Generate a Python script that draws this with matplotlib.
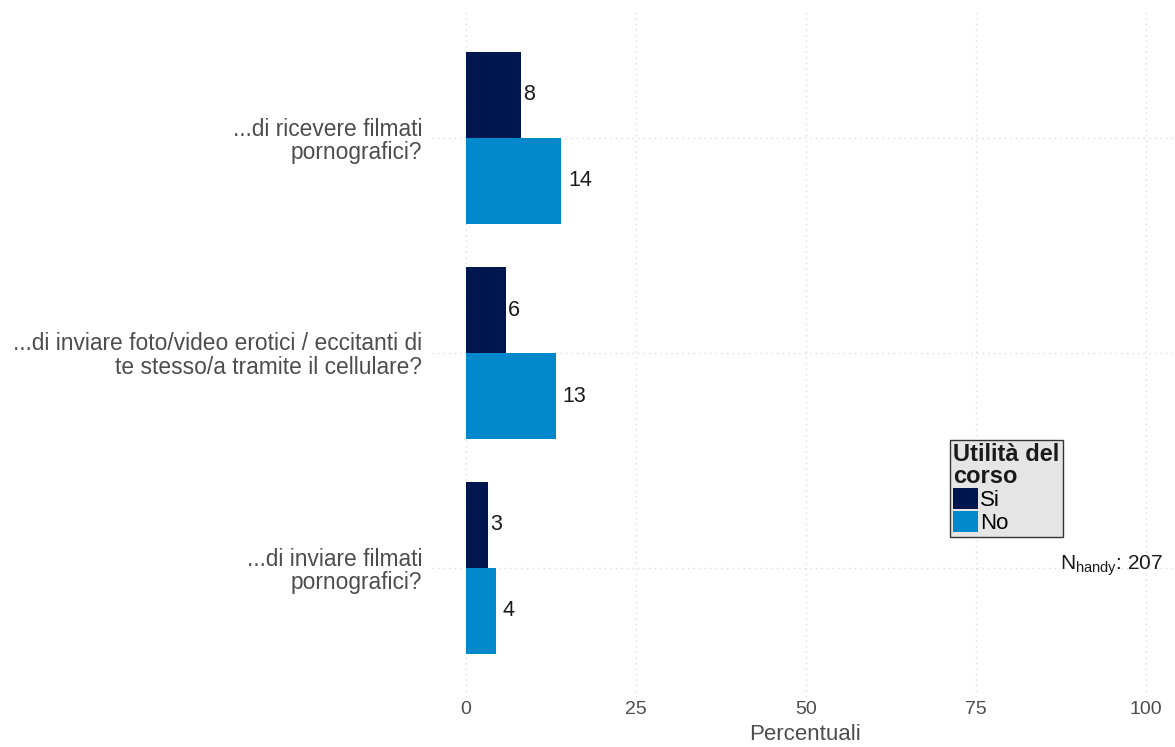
import matplotlib
matplotlib.use("Agg")
import matplotlib.pyplot as plt
import numpy as np
from matplotlib.patches import Patch

plt.rcParams['font.family'] = ['Liberation Sans', 'DejaVu Sans']
plt.rcParams['mathtext.fontset'] = 'custom'
plt.rcParams['mathtext.rm'] = 'Liberation Sans'
plt.rcParams['mathtext.it'] = 'Liberation Sans'

categories = ["...di ricevere filmati\npornografici?",
              "...di inviare foto/video erotici / eccitanti di\nte stesso/a tramite il cellulare?",
              "...di inviare filmati\npornografici?"]
si_values = [8.1, 5.9, 3.2]
no_values = [14.0, 13.2, 4.4]
series_names = ["Si", "No"]
colors = ["#00164F", "#0088CC"]
n_handy = 207
xticks = [0, 25, 50, 75, 100]

fig = plt.figure(figsize=(11.75, 7.47), dpi=100)
ax = fig.add_axes([432 / 1175, 1 - 697 / 747, 1 - 432 / 1175, (697 - 9) / 747])

y = np.arange(1, len(categories) + 1)
h = 0.4
ax.barh(y - h / 2, si_values, height=h, color=colors[0], zorder=2)
ax.barh(y + h / 2, no_values, height=h, color=colors[1], zorder=2)

for yi, v in zip(y - h / 2, si_values):
    ax.text(v + 0.3, yi, f"{v:.0f}", va="center", ha="left", fontsize=15.5, color="#1A1A1A")
for yi, v in zip(y + h / 2, no_values):
    ax.text(v + 1.0, yi, f"{v:.0f}", va="center", ha="left", fontsize=15.5, color="#1A1A1A")

ax.set_xlim(-5, 104.3)
ax.set_ylim(3.6, 0.4)
ax.set_xticks(xticks)
ax.set_xticklabels([str(t) for t in xticks], fontsize=14, color="#4D4D4D")
ax.set_yticks(y)
ax.set_yticklabels(categories, fontsize=16.4, color="#4D4D4D", ha="right",
                   linespacing=1.0)
ax.tick_params(length=0)
ax.tick_params(axis="x", pad=3)
ax.tick_params(axis="y", pad=7)
ax.set_xlabel("Percentuali", fontsize=16, color="#4D4D4D")
ax.xaxis.set_label_coords(0.502, (697 - 734) / 688)
ax.xaxis.label.set_va("center")

ax.grid(True, color="#DDDDDD", linestyle=(0, (1, 3)), linewidth=1, zorder=0)
for s in ax.spines.values():
    s.set_visible(False)

handles = [Patch(facecolor=c, label=n) for c, n in zip(colors, series_names)]
leg = ax.legend(handles=handles, title="Utilità del\ncorso", loc="upper left",
                bbox_to_anchor=((950 - 432) / 743, 1 - (440 - 9) / 688),
                fontsize=16, title_fontproperties={"weight": "bold", "size": 17},
                frameon=True, fancybox=False, handlelength=1.1, handleheight=1.1,
                handletextpad=0.1, labelspacing=0.0, borderpad=0.15, borderaxespad=0)
leg.get_frame().set_facecolor("#E5E5E5")
leg.get_frame().set_edgecolor("#333333")
leg.get_frame().set_linewidth(1)
leg.get_frame().set_alpha(1)
leg._legend_box.align = "left"
leg.get_title().set_linespacing(0.9)
leg.get_title().set_color("#1A1A1A")

fig.text(1163 / 1175, 1 - 566 / 747, r"N$_{\mathrm{handy}}$: " + str(n_handy),
         ha="right", va="center", fontsize=15, color="#1A1A1A")

fig.savefig("out.png", dpi=100)
